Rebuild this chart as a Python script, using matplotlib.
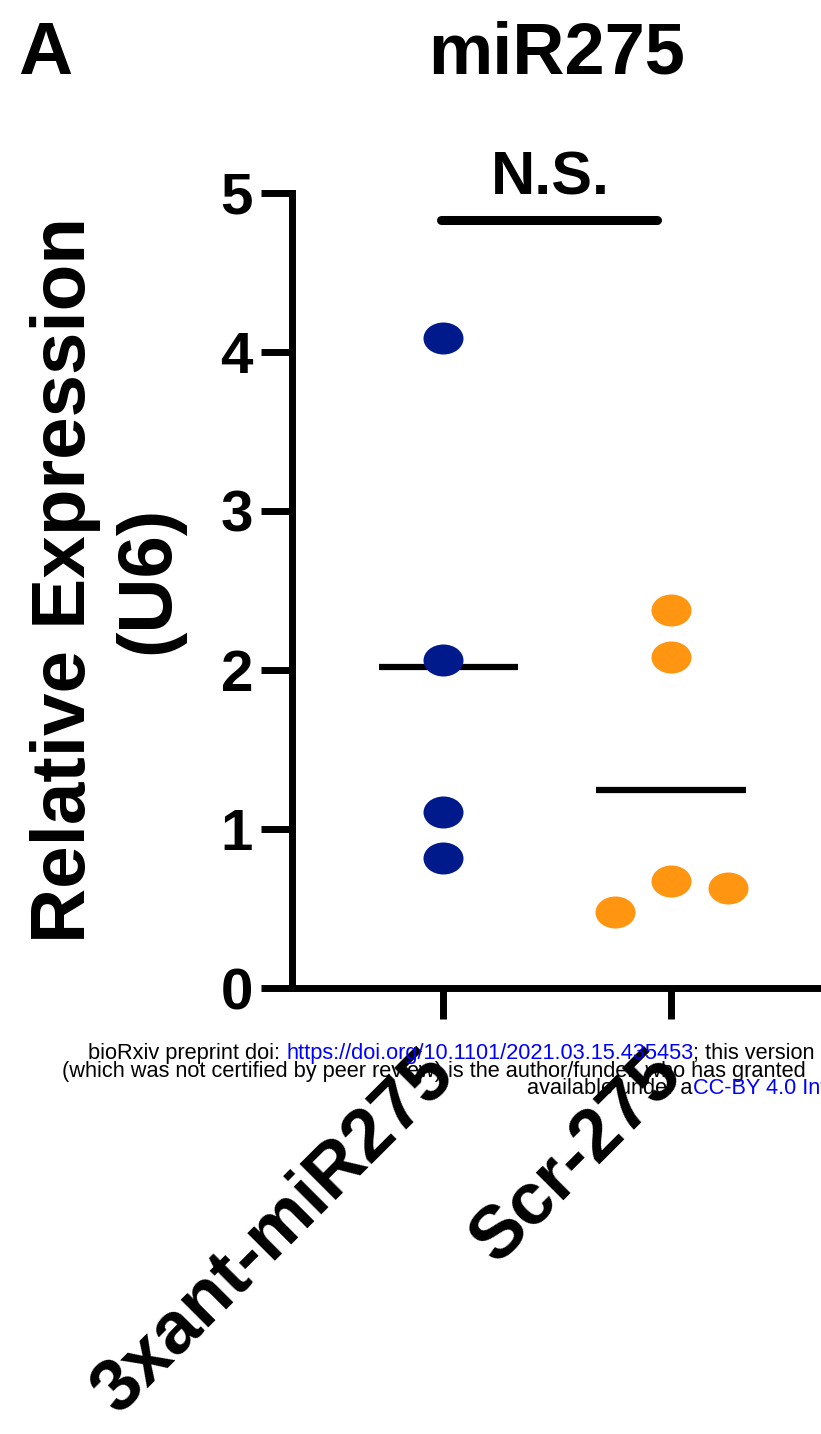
import matplotlib.pyplot as plt
import numpy as np
from matplotlib.path import Path
from matplotlib.transforms import Affine2D

plt.rcParams['font.family'] = ['Liberation Sans', 'DejaVu Sans']

# data
groups = ['3xant-miR275', 'Scr-275']
anti_vals = [4.09, 2.06, 1.11, 0.82]
scr_vals = [2.38, 2.08, 0.67, 0.48, 0.63]
scr_offsets = [0.0, 0.0, 0.0, -0.245, 0.25]
blue = '#001a8c'
orange = '#ff9510'

# slightly wide dots like the (stretched) original
ellipse = Path.unit_circle().transformed(Affine2D().scale(1.25, 1.0))

fig = plt.figure(figsize=(8.21, 14.34), dpi=100)
ax = fig.add_axes([292 / 821, 1 - 988 / 1434, 1 - 292 / 821, (988 - 193) / 1434])

ax.scatter([0] * len(anti_vals), anti_vals, s=830, marker=ellipse,
           color=blue, linewidths=0, zorder=3)
ax.scatter(np.ones(len(scr_vals)) + np.array(scr_offsets), scr_vals, s=830,
           marker=ellipse, color=orange, linewidths=0, zorder=3)

# mean lines
ax.hlines(np.mean(anti_vals), -0.28, 0.33, color='black', lw=4.5, zorder=2)
ax.hlines(np.mean(scr_vals), 0.67, 1.33, color='black', lw=4.5, zorder=2)

ax.set_xlim(-0.662, 1.658)
ax.set_ylim(0, 5)
ax.set_yticks([0, 1, 2, 3, 4, 5])
ax.set_xticks([0, 1])
ax.set_xticklabels(groups, rotation=45, ha='right', va='center',
                   rotation_mode='anchor', fontsize=53, fontweight='bold')
ax.tick_params(axis='y', labelsize=42, width=5, length=22, pad=6)
ax.tick_params(axis='x', width=5, length=22, pad=32)
for lab in ax.get_yticklabels():
    lab.set_fontweight('bold')
for lab in ax.get_xticklabels():
    lab.set_zorder(5)
ax.spines['top'].set_visible(False)
ax.spines['right'].set_visible(False)
ax.spines['left'].set_linewidth(5)
ax.spines['bottom'].set_linewidth(5)
ax.patch.set_alpha(0)

# significance bar
ax.plot([-0.01, 0.94], [4.83, 4.83], color='black', lw=6.5, solid_capstyle='round',
        clip_on=False)
ax.text(0.47, 4.91, 'N.S.', ha='center', va='bottom', fontsize=44, fontweight='bold')

fig.text(0.022, 1 - 54 / 1434, 'A', fontsize=54, fontweight='bold', va='center')
fig.text(557 / 821, 1 - 54 / 1434, 'miR275', fontsize=52, fontweight='bold',
         ha='center', va='center')
fig.text(107 / 821, 1 - 580 / 1434, 'Relative Expression\n(U6)', rotation=90,
         fontsize=55, fontweight='bold', ha='center', va='center',
         multialignment='center', linespacing=1.23)

# bioRxiv watermark lines, drawn behind the tick labels
fig.canvas.draw()
renderer = fig.canvas.get_renderer()

line1 = [('bioRxiv preprint doi: ', 'black'),
         ('https://doi.org/10.1101/2021.03.15.435453', 'blue'),
         ('; this version', 'black')]
line2 = [('(which was not certified by peer review) is the author/funder, who has granted', 'black')]
line3 = [('available under a', 'black'), ('CC-BY 4.0 Int', 'blue')]

# fit the first line between its left edge and the figure edge
probe = fig.text(0, 0, ''.join(p[0] for p in line1), fontsize=10)
wm_size = 10 * (819 - 88) / probe.get_window_extent(renderer).width
probe.remove()


def write_line(x_px, y_px, parts):
    x = x_px
    for txt, col in parts:
        t = fig.text(x / 821, 1 - y_px / 1434, txt, color=col, fontsize=wm_size,
                     va='center', ha='left', zorder=1)
        x = t.get_window_extent(renderer).x1


write_line(88, 1054, line1)
write_line(62, 1071, line2)
write_line(527, 1088, line3)

fig.savefig('out.png', dpi=100)
